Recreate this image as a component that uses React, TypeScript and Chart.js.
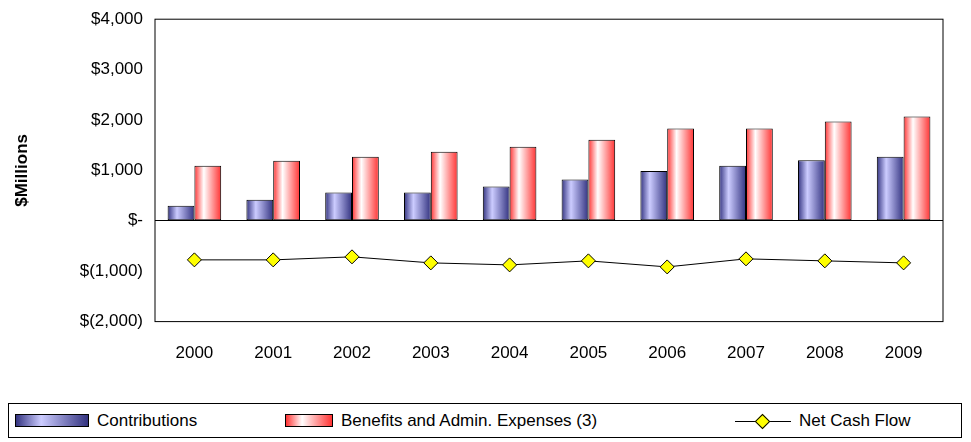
import { useEffect, useRef } from 'react';
import { Chart, registerables } from 'chart.js';

Chart.register(...registerables);

const years = ['2000', '2001', '2002', '2003', '2004', '2005', '2006', '2007', '2008', '2009'];
const contributions = [300, 420, 560, 560, 680, 820, 990, 1090, 1200, 1270];
const benefits = [1090, 1190, 1270, 1370, 1470, 1610, 1830, 1830, 1970, 2070];
const netCashFlow = [-775, -775, -715, -835, -875, -795, -915, -755, -795, -835];

const fmt = (v: number) => {
  if (v === 0) return '$-';
  const s = Math.abs(v).toLocaleString('en-US');
  return v < 0 ? `$(${s})` : `$${s}`;
};

const barColors: Record<number, [string, string]> = {
  1: ['#333380', '#ccccff'],
  2: ['#ff3333', '#ffffff'],
};

// paints each bar with its own horizontal gradient once positions are known
const gradients = {
  id: 'gradients',
  beforeDatasetsDraw(chart: any) {
    const c = chart.ctx as CanvasRenderingContext2D;
    Object.keys(barColors).forEach((k) => {
      const i = Number(k);
      const [dark, light] = barColors[i];
      chart.getDatasetMeta(i).data.forEach((el: any) => {
        const g = c.createLinearGradient(el.x - el.width / 2, 0, el.x + el.width / 2, 0);
        g.addColorStop(0, dark);
        g.addColorStop(0.35, light);
        g.addColorStop(1, dark);
        el.options = Object.assign(Object.create(Object.getPrototypeOf(el.options)), el.options, {
          backgroundColor: g,
        });
      });
    });
  },
};

const frame = {
  id: 'frame',
  afterDraw(chart: any) {
    const { ctx, chartArea: a } = chart;
    ctx.save();
    ctx.strokeStyle = '#000';
    ctx.lineWidth = 1;
    ctx.strokeRect(a.left, a.top, a.right - a.left, a.bottom - a.top);
    ctx.restore();
  },
};

export default function App() {
  const ref = useRef<HTMLCanvasElement | null>(null);

  useEffect(() => {
    if (!ref.current) return;
    const chart = new Chart(ref.current, {
      type: 'bar',
      data: {
        labels: years,
        datasets: [
          {
            type: 'line',
            label: 'Net Cash Flow',
            data: netCashFlow,
            borderColor: '#000',
            borderWidth: 1,
            backgroundColor: '#ffff00',
            pointStyle: 'rectRot',
            pointRadius: 7,
            pointBorderColor: '#000',
            pointBorderWidth: 1,
          },
          {
            label: 'Contributions',
            data: contributions,
            backgroundColor: '#333380',
            borderColor: '#000',
            borderWidth: 1,
            borderSkipped: false,
            categoryPercentage: 0.68,
            barPercentage: 1,
          },
          {
            label: 'Benefits and Admin. Expenses (3)',
            data: benefits,
            backgroundColor: '#ff3333',
            borderColor: '#000',
            borderWidth: 1,
            borderSkipped: false,
            categoryPercentage: 0.68,
            barPercentage: 1,
          },
        ] as any,
      },
      options: {
        animation: false,
        responsive: true,
        maintainAspectRatio: false,
        layout: { padding: { top: 0, right: 20, left: 0 } },
        plugins: { legend: { display: false }, tooltip: { enabled: false } },
        scales: {
          x: {
            grid: { display: false },
            border: { display: false },
            ticks: { color: '#000', font: { family: 'Liberation Sans', size: 17 }, padding: 14 },
          },
          y: {
            min: -2000,
            max: 4000,
            afterFit: (s: any) => { s.width = 147; },
            ticks: {
              stepSize: 1000,
              color: '#000',
              padding: 12,
              font: { family: 'Liberation Sans', size: 17 },
              callback: (v: any) => fmt(Number(v)),
            },
            grid: {
              color: (c: any) => (c.tick && c.tick.value === 0 ? '#000' : 'rgba(0,0,0,0)'),
              drawTicks: false,
            },
            border: { display: false },
            title: {
              display: true,
              text: '$Millions',
              color: '#000',
              font: { family: 'Liberation Sans', size: 17, weight: 'bold' },
            },
          },
        },
      },
      plugins: [gradients, frame],
    });
    return () => chart.destroy();
  }, []);

  const item = { display: 'flex', alignItems: 'center', gap: 8 } as const;
  return (
    <div style={{ fontFamily: 'Liberation Sans', fontSize: 17, color: '#000' }}>
      <div style={{ height: 381, width: 955, marginTop: -11 }}>
        <canvas ref={ref} />
      </div>
      <div
        style={{
          marginTop: 25,
          height: 35,
          width: 954,
          border: '1px solid #000',
          display: 'flex',
          alignItems: 'center',
          boxSizing: 'border-box',
          paddingLeft: 6,
        }}
      >
        <div style={{ ...item, width: 270 }}>
          <span style={{ width: 72, height: 11, border: '1px solid #000', background: 'linear-gradient(90deg,#333380,#ccccff 35%,#333380)' }} />
          Contributions
        </div>
        <div style={{ ...item, width: 450 }}>
          <span style={{ width: 46, height: 11, border: '1px solid #000', background: 'linear-gradient(90deg,#ff3333,#fff 35%,#ff3333)' }} />
          Benefits and Admin. Expenses (3)
        </div>
        <div style={item}>
          <span style={{ position: 'relative', width: 56, height: 14, display: 'inline-block' }}>
            <span style={{ position: 'absolute', left: 0, right: 0, top: 7, borderTop: '1px solid #000' }} />
            <span style={{ position: 'absolute', left: 22, top: 2, width: 9, height: 9, background: '#ff0', border: '1px solid #000', transform: 'rotate(45deg)' }} />
          </span>
          Net Cash Flow
        </div>
      </div>
    </div>
  );
}
